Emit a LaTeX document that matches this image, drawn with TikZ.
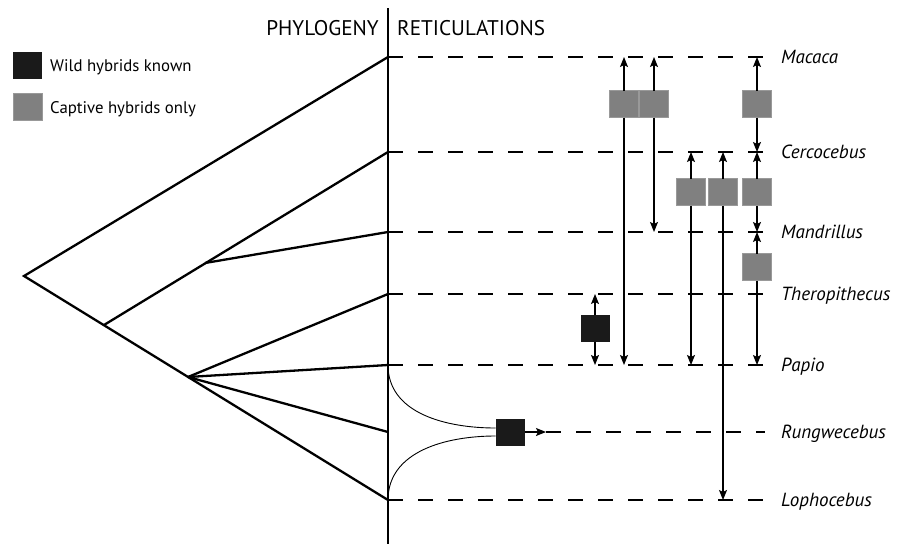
\documentclass[tikz,border=0pt]{standalone}
\usepackage{fontspec}
\setmainfont{PT Sans}
\usepackage{tikz}
\usetikzlibrary{arrows.meta,positioning}
\definecolor{wildblk}{HTML}{1A1A1A}
\definecolor{captgray}{HTML}{808080}
\tikzstyle{hyb}=[minimum width=29pt,minimum height=27pt,inner sep=0pt,outer sep=0pt]

\begin{document}
\begin{tikzpicture}[
    x=1pt,y=-1pt,
    branch/.style={line width=2.3pt},
    row/.style={line width=1.3pt,dash pattern=on 15pt off 15pt},
    arr/.style={line width=1.2pt,-{Stealth[length=10pt,width=8pt,inset=2pt]}},
    taxon/.style={anchor=base west,inner sep=0pt,font=\fontsize{19}{22}\selectfont\itshape},
    head/.style={inner sep=0pt,font=\fontsize{21.2}{25}\selectfont},
    keytext/.style={anchor=base west,inner sep=0pt,font=\fontsize{16.8}{20}\selectfont},
    wild/.style={hyb,fill=wildblk},
    capt/.style={hyb,fill=captgray,draw=captgray!80!white,line width=0.6pt}
    ]
    \useasboundingbox (0,0) rectangle (913,544);
    % time line and tips
    \coordinate (ttop) at (388,8);
    \coordinate (tbot) at (388,544);
    \coordinate (mac) at (388,57);
    \coordinate (cer) at (388,152);
    \coordinate (man) at (388,232);
    \coordinate (the) at (388,294);
    \coordinate (pap) at (388,365);
    \coordinate (run) at (388,432);
    \coordinate (lop) at (388,500);
    \coordinate (dend) at (773,0);
    \coordinate (rend) at (765,0);
    \coordinate (rarr) at (546,432);
    \draw[line width=1.2pt] (ttop) -- (tbot);
    \node[head,anchor=base east] (phy) at (379,35) {PHYLOGENY};
    \node[head,anchor=base west] (ret) at (397,35) {RETICULATIONS};
    % phylogeny
    \coordinate (root) at (24,276);
    \coordinate (n1) at (104,325);
    \coordinate (n2) at (205,263);
    \coordinate (n3) at (188,377);
    \draw[branch] (mac) -- (root) -- (lop);
    \draw[branch] (n1) -- (cer);
    \draw[branch] (n2) -- (man);
    \draw[branch] (n3) -- (the);
    \draw[branch] (n3) -- (pap);
    \draw[branch] (n3) -- (run);
    % rows
    \foreach \t in {mac,cer,man,the,pap,lop}
        \draw[row] (\t) -- (\t -| dend);
    \draw[row] (rarr) -- (run -| rend);
    \node[taxon] (lmac) at (781,63) {Macaca};
    \node[taxon] (lcer) at (781,158) {Cercocebus};
    \node[taxon] (lman) at (781,238) {Mandrillus};
    \node[taxon] (lthe) at (781,300) {Theropithecus};
    \node[taxon] (lpap) at (781,371) {Papio};
    \node[taxon] (lrun) at (781,438) {Rungwecebus};
    \node[taxon] (llop) at (781,506) {Lophocebus};
    % hybrids
    \node[capt] (g1) at (624,104) {};
    \node[capt] (g2) at (654,104) {};
    \node[capt] (g3) at (757,104) {};
    \node[capt] (g4) at (691,192) {};
    \node[capt] (g5) at (723,192) {};
    \node[capt] (g6) at (757,192) {};
    \node[capt] (g7) at (757,267) {};
    \node[wild] (k1) at (595,328) {};
    \node[wild] (k2) at (510,432) {};
    \draw[arr] (g1.north) -- (g1 |- mac);
    \draw[arr] (g1.south) -- (g1 |- pap);
    \draw[arr] (g2.north) -- (g2 |- mac);
    \draw[arr] (g2.south) -- (g2 |- man);
    \draw[arr] (g3.north) -- (g3 |- mac);
    \draw[arr] (g3.south) -- (g3 |- cer);
    \draw[arr] (g4.north) -- (g4 |- cer);
    \draw[arr] (g4.south) -- (g4 |- pap);
    \draw[arr] (g5.north) -- (g5 |- cer);
    \draw[arr] (g5.south) -- (g5 |- lop);
    \draw[arr] (g6.north) -- (g6 |- cer);
    \draw[arr] (g6.south) -- (g6 |- man);
    \draw[arr] (g7.north) -- (g7 |- man);
    \draw[arr] (g7.south) -- (g7 |- pap);
    \draw[arr] (k1.north) -- (k1 |- the);
    \draw[arr] (k1.south) -- (k1 |- pap);
    \draw[arr] (k2.east) -- (rarr);
    \draw[line width=0.9pt] (pap) to[out=-90,in=180] ([yshift=4pt]k2.west);
    \draw[line width=0.9pt] (lop) to[out=90,in=180] ([yshift=-4pt]k2.west);
    % key
    \node[wild] (kwild) at (27.5,65.5) {};
    \node[capt] (kcapt) at (27.5,107) {};
    \node[keytext] (twild) at (50,71) {Wild hybrids known};
    \node[keytext] (tcapt) at (50,113) {Captive hybrids only};
\end{tikzpicture}
\end{document}
